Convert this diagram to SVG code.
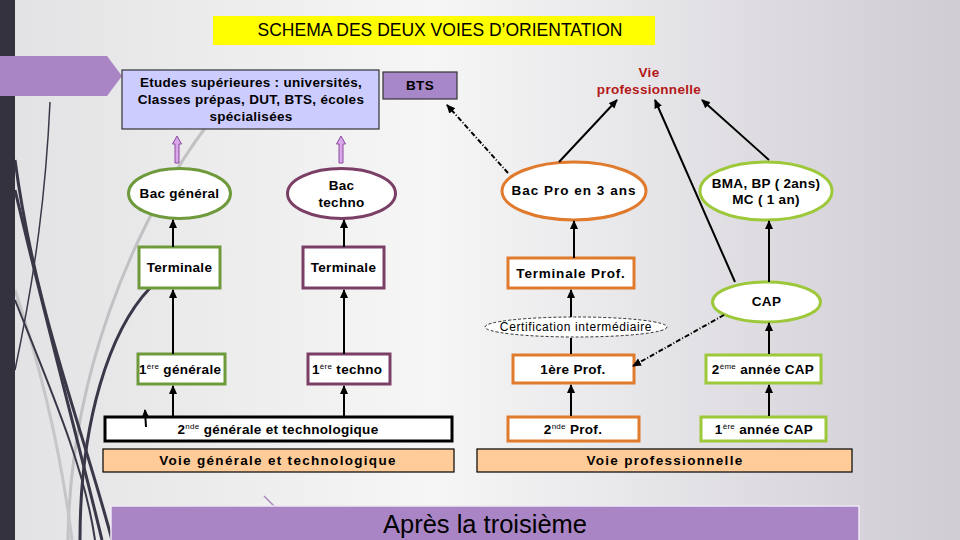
<svg xmlns="http://www.w3.org/2000/svg" width="960" height="540" viewBox="0 0 960 540">
<defs>
<linearGradient id="bg" x1="0" y1="0" x2="1" y2="0">
<stop offset="0" stop-color="#e2e2e4"/>
<stop offset="0.45" stop-color="#f6f6f6"/>
<stop offset="1" stop-color="#cfccd4"/>
</linearGradient>
<marker id="ah" markerUnits="userSpaceOnUse" markerWidth="10" markerHeight="10" refX="8" refY="4" orient="auto">
<path d="M0,0 L9,4 L0,8 z" fill="#000"/>
</marker>
<style>
.t{font-family:"Liberation Sans",Arial,sans-serif;font-weight:bold;font-size:13.5px;letter-spacing:0.3px;fill:#000;text-anchor:middle}
.tl{font-family:"Liberation Sans",Arial,sans-serif;font-weight:bold;font-size:13.5px;letter-spacing:0.3px;fill:#000}
.sup{font-size:8px;font-weight:normal}
.wide{letter-spacing:1.3px}
.box{fill:#fff;stroke-width:3}
.gen{stroke:#6e9a3c}
.tech{stroke:#7b3f66}
.pro{stroke:#e07a2c}
.cap{stroke:#9cc83a}
.c{stroke:#000;stroke-width:2;fill:none;marker-end:url(#ah)}
.cn{stroke:#000;stroke-width:2;fill:none}
.dd{stroke:#000;stroke-width:2;fill:none;stroke-dasharray:5 2 1 2;marker-end:url(#ah)}
.voie{fill:#ffcc99;stroke:#000;stroke-width:1.2}
.pa{fill:#d9a6ea;stroke:#8a4a9e;stroke-width:1}
</style>
</defs>
<rect width="960" height="540" fill="url(#bg)"/>
<!-- decorative curves -->
<g fill="none">
<path d="M205,128 C130,230 70,380 68,540" stroke="#c2c2c4" stroke-width="3"/>
<path d="M15,290 C45,380 62,460 72,540" stroke="#c6c6c8" stroke-width="3"/>
<path d="M50,102 C46,190 36,270 15,370" stroke="#3a3848" stroke-width="1.5"/>
<path d="M15,160 C35,310 80,420 112,540" stroke="#3a3848" stroke-width="3"/>
<path d="M15,190 C48,330 78,440 102,540" stroke="#3a3848" stroke-width="3"/>
<path d="M15,300 C55,400 85,470 95,540" stroke="#3a3848" stroke-width="2"/>
<path d="M150,288 C110,330 80,420 80,540" stroke="#3a3848" stroke-width="3"/>
<path d="M264,496 L308,540" stroke="#a98bc2" stroke-width="1.5"/>
</g>
<rect x="0" y="0" width="15" height="540" fill="#35323f"/>
<polygon points="0,56 107,56 122,76 107,96 0,96" fill="#aa85c5"/>
<!-- title -->
<g id="title">
<rect x="213" y="16" width="442" height="29" fill="#ffff00"/>
<text x="440" y="36" font-family="'Liberation Sans',Arial,sans-serif" font-size="17.5" text-anchor="middle" fill="#000">SCHEMA DES DEUX VOIES D’ORIENTATION</text>
</g>
<!-- nodes -->
<g id="etudes">
<rect x="122" y="70" width="257" height="59" fill="#ccccff" stroke="#333" stroke-width="1.2"/>
<text class="t" x="251" y="87">Etudes supérieures : universités,</text>
<text class="t" x="251" y="104">Classes prépas, DUT, BTS, écoles</text>
<text class="t" x="251" y="121">spécialisées</text>
</g>
<g id="bts">
<rect x="383" y="72" width="74" height="27" fill="#a887c8" stroke="#333" stroke-width="1.2"/>
<text class="t" x="420" y="90">BTS</text>
</g>
<g id="vie-pro">
<text class="t" x="649" y="77" style="fill:#b41818">Vie</text>
<text class="t" x="649" y="94" style="fill:#b41818">professionnelle</text>
</g>
<g id="bac-general">
<ellipse class="box gen" cx="179.5" cy="193.5" rx="51" ry="25"/>
<text class="t" x="179.5" y="198">Bac général</text>
</g>
<g id="bac-techno">
<ellipse class="box tech" cx="341.5" cy="193.5" rx="54" ry="25"/>
<text class="t" x="341.5" y="190">Bac</text>
<text class="t" x="341.5" y="207">techno</text>
</g>
<g id="terminale-gen">
<rect class="box gen" x="139" y="247" width="81" height="41"/>
<text class="t" x="179.5" y="272">Terminale</text>
</g>
<g id="terminale-techno">
<rect class="box tech" x="303" y="247" width="81" height="41"/>
<text class="t" x="343.5" y="272">Terminale</text>
</g>
<g id="premiere-gen">
<rect class="box gen" x="138" y="354" width="87" height="30"/>
<text class="tl" x="139" y="374">1<tspan class="sup" dy="-5">ère</tspan><tspan dy="5"> générale</tspan></text>
</g>
<g id="premiere-techno">
<rect class="box tech" x="308" y="354" width="82" height="30"/>
<text class="tl" x="312" y="374">1<tspan class="sup" dy="-5">ère</tspan><tspan dy="5"> techno</tspan></text>
</g>
<g id="seconde-gt">
<rect x="105" y="417" width="347" height="24" fill="#fff" stroke="#000" stroke-width="3"/>
<text class="t" x="278" y="434">2<tspan class="sup" dy="-5">nde</tspan><tspan dy="5"> générale et technologique</tspan></text>
</g>
<g id="voie-gt">
<rect class="voie" x="103" y="449" width="351" height="23"/>
<text class="t wide" x="278" y="465">Voie générale et technologique</text>
</g>
<g id="bac-pro">
<ellipse class="box pro" cx="574" cy="191" rx="72" ry="29"/>
<text class="t" x="574" y="195" style="letter-spacing:1px">Bac Pro en 3 ans</text>
</g>
<g id="bma">
<ellipse class="box cap" cx="766" cy="191" rx="66" ry="29"/>
<text class="t" x="766" y="188">BMA, BP ( 2ans)</text>
<text class="t" x="766" y="204">MC ( 1 an)</text>
</g>
<g id="terminale-pro">
<rect class="box pro" x="508" y="258" width="126" height="30"/>
<text class="t" x="571" y="278" style="letter-spacing:0.8px">Terminale Prof.</text>
</g>
<g id="cap">
<ellipse class="box cap" cx="766.5" cy="302" rx="54" ry="20"/>
<text class="t" x="766.5" y="306">CAP</text>
</g>
<g id="certification">
<ellipse cx="576" cy="327" rx="91" ry="10" fill="#fff" stroke="#000" stroke-width="0.8" stroke-dasharray="3 2"/>
<text x="576" y="331" font-family="'Liberation Sans',Arial,sans-serif" font-size="12" letter-spacing="0.6" text-anchor="middle" fill="#000">Certification intermédiaire</text>
</g>
<g id="premiere-pro">
<rect class="box pro" x="513" y="355" width="121" height="28"/>
<text class="t" x="573" y="374">1ère Prof.</text>
</g>
<g id="deuxieme-cap">
<rect class="box cap" x="706" y="355" width="115" height="28"/>
<text class="t" x="763" y="374">2<tspan class="sup" dy="-5">ème</tspan><tspan dy="5"> année CAP</tspan></text>
</g>
<g id="seconde-pro">
<rect class="box pro" x="508" y="417" width="131" height="24"/>
<text class="t" x="573" y="434">2<tspan class="sup" dy="-5">nde</tspan><tspan dy="5"> Prof.</tspan></text>
</g>
<g id="premiere-cap">
<rect class="box cap" x="701" y="417" width="125" height="24"/>
<text class="t" x="764" y="434">1<tspan class="sup" dy="-5">ère</tspan><tspan dy="5"> année CAP</tspan></text>
</g>
<g id="voie-pro">
<rect class="voie" x="477" y="449" width="375" height="23"/>
<text class="t wide" x="665" y="465">Voie professionnelle</text>
</g>
<g id="apres">
<rect x="111" y="506" width="748" height="40" fill="#aa85c5" stroke="#efe8f4" stroke-width="1.5"/>
<text x="485" y="533" font-family="'Liberation Sans',Arial,sans-serif" font-size="25.5" text-anchor="middle" fill="#000">Après la troisième</text>
</g>
<!-- connectors -->
<g id="connectors">
<line class="c" x1="173" y1="247" x2="173" y2="220"/>
<line class="c" x1="344" y1="247" x2="344" y2="220"/>
<line class="c" x1="173" y1="354" x2="173" y2="290"/>
<line class="c" x1="344" y1="354" x2="344" y2="290"/>
<line class="c" x1="173" y1="417" x2="173" y2="386"/>
<line class="c" x1="344" y1="417" x2="344" y2="386"/>
<line class="c" x1="146" y1="427" x2="145" y2="410"/>
<line class="c" x1="574" y1="258" x2="574" y2="221"/>
<line class="c" x1="571" y1="317" x2="571" y2="290"/>
<line class="cn" x1="571" y1="354" x2="571" y2="338"/>
<line class="c" x1="571" y1="416" x2="571" y2="385"/>
<line class="c" x1="769" y1="282" x2="769" y2="221"/>
<line class="c" x1="769" y1="354" x2="769" y2="323"/>
<line class="c" x1="769" y1="416" x2="769" y2="385"/>
<line class="c" x1="559" y1="162" x2="617" y2="100"/>
<line class="c" x1="735" y1="282" x2="655" y2="100"/>
<line class="c" x1="769" y1="160" x2="702" y2="100"/>
<line class="dd" x1="508" y1="173" x2="447" y2="105"/>
<line class="dd" x1="724" y1="315" x2="633" y2="366"/>
<polygon class="pa" points="175,163 175,144 172.5,144 177,136 181.5,144 179,144 179,163"/>
<polygon class="pa" points="339,163 339,144 336.5,144 341,136 345.5,144 343,144 343,163"/>
</g>
</svg>
